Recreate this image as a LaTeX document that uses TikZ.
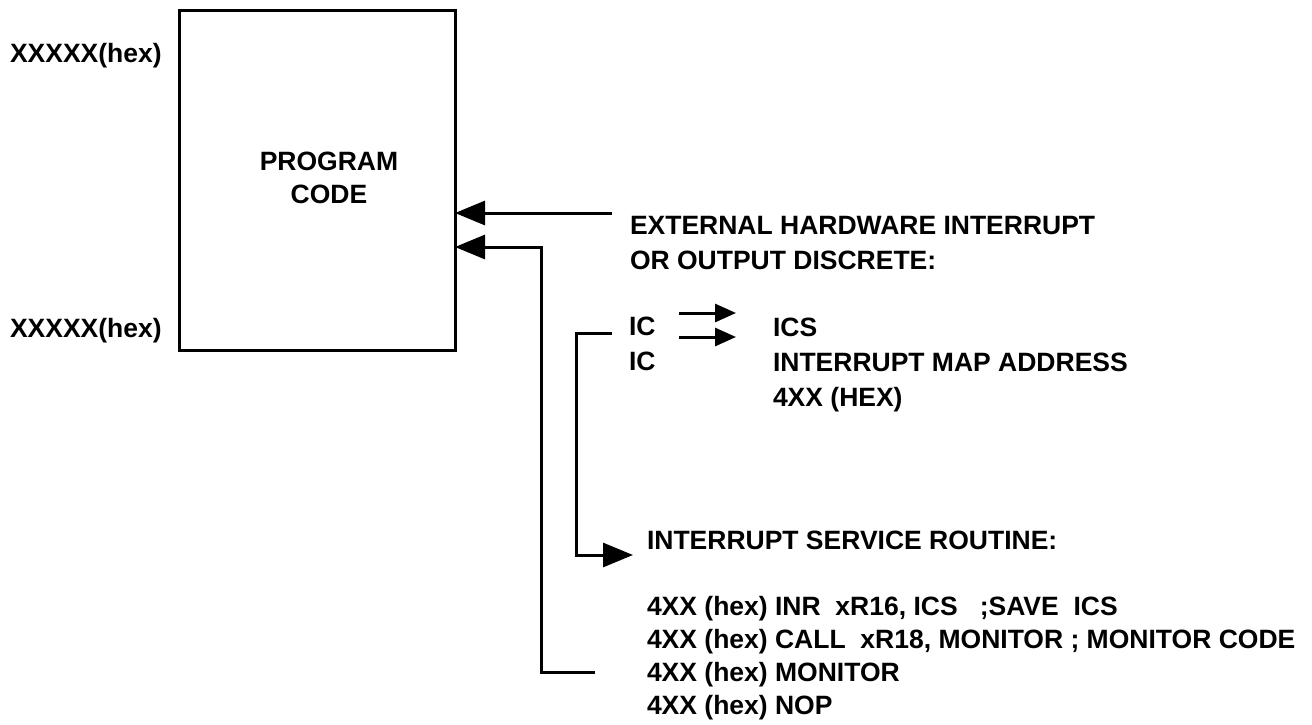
\documentclass[tikz,border=0pt]{standalone}
\usepackage{fontspec}
\setmainfont{Liberation Sans}
\usetikzlibrary{arrows.meta}
\tikzset{
  lbl/.style={inner sep=0pt, outer sep=0pt, anchor=base west, font=\fontsize{26.5}{33}\selectfont\bfseries},
  ln/.style={line width=3pt},
  bigarrow/.style={ln, -{Triangle[length=30pt,width=24pt]}},
  smallarrow/.style={ln, -{Triangle[length=21pt,width=18pt]}},
}
\begin{document}
\begin{tikzpicture}[x=1pt,y=-1pt]
\useasboundingbox (0,0) rectangle (1312,724);
% program box
\node[draw, line width=3pt, outer sep=0pt, inner sep=0pt, minimum width=276pt, minimum height=340pt] (box) at (317,180) {};
\node[lbl, anchor=base] (pg) at (329,170) {PROGRAM};
\node[lbl, anchor=base] (cd) at (329,203) {CODE};
\node[lbl] (x1) at (10,62) {XXXXX(hex)};
\node[lbl] (x2) at (10,337) {XXXXX(hex)};
% right texts
\node[lbl] (ext1) at (630,234) {EXTERNAL HARDWARE INTERRUPT};
\node[lbl] (ext2) at (630,269) {OR OUTPUT DISCRETE:};
\node[lbl] (ic1) at (629,335) {IC};
\node[lbl] (ic2) at (629,370) {IC};
\node[lbl] (ics) at (773,336) {ICS};
\node[lbl] (ima) at (773,371) {INTERRUPT MAP ADDRESS};
\node[lbl] (hex) at (773,406) {4XX (HEX)};
\node[lbl] (isr) at (647,549) {INTERRUPT SERVICE ROUTINE:};
\node[lbl] (l1) at (647,615) {4XX (hex) INR\ \ xR16, ICS\ \ \ ;SAVE\ \ ICS};
\node[lbl] (l2) at (647,648) {4XX (hex) CALL\ \ xR18, MONITOR ; MONITOR CODE};
\node[lbl] (l3) at (647,681) {4XX (hex) MONITOR};
\node[lbl] (l4) at (647,714) {4XX (hex) NOP};
% connectors
\coordinate (e1) at (612,213);
\draw[bigarrow] (e1) -- (e1 -| box.east);
\coordinate (m1) at (595,672);
\coordinate (k1) at (541,247);
\draw[bigarrow] (m1) -- (m1 -| k1) -- (k1) -- (k1 -| box.east);
\coordinate (b1) at (612,333);
\coordinate (b2) at (576,555);
\coordinate (b3) at (633,555);
\draw[bigarrow] (b1) -- (b1 -| b2) -- (b2) -- (b3);
\coordinate (s1) at (679,313);
\coordinate (s2) at (736,313);
\coordinate (s3) at (679,337);
\coordinate (s4) at (736,337);
\draw[smallarrow] (s1) -- (s2);
\draw[smallarrow] (s3) -- (s4);
\end{tikzpicture}
\end{document}
